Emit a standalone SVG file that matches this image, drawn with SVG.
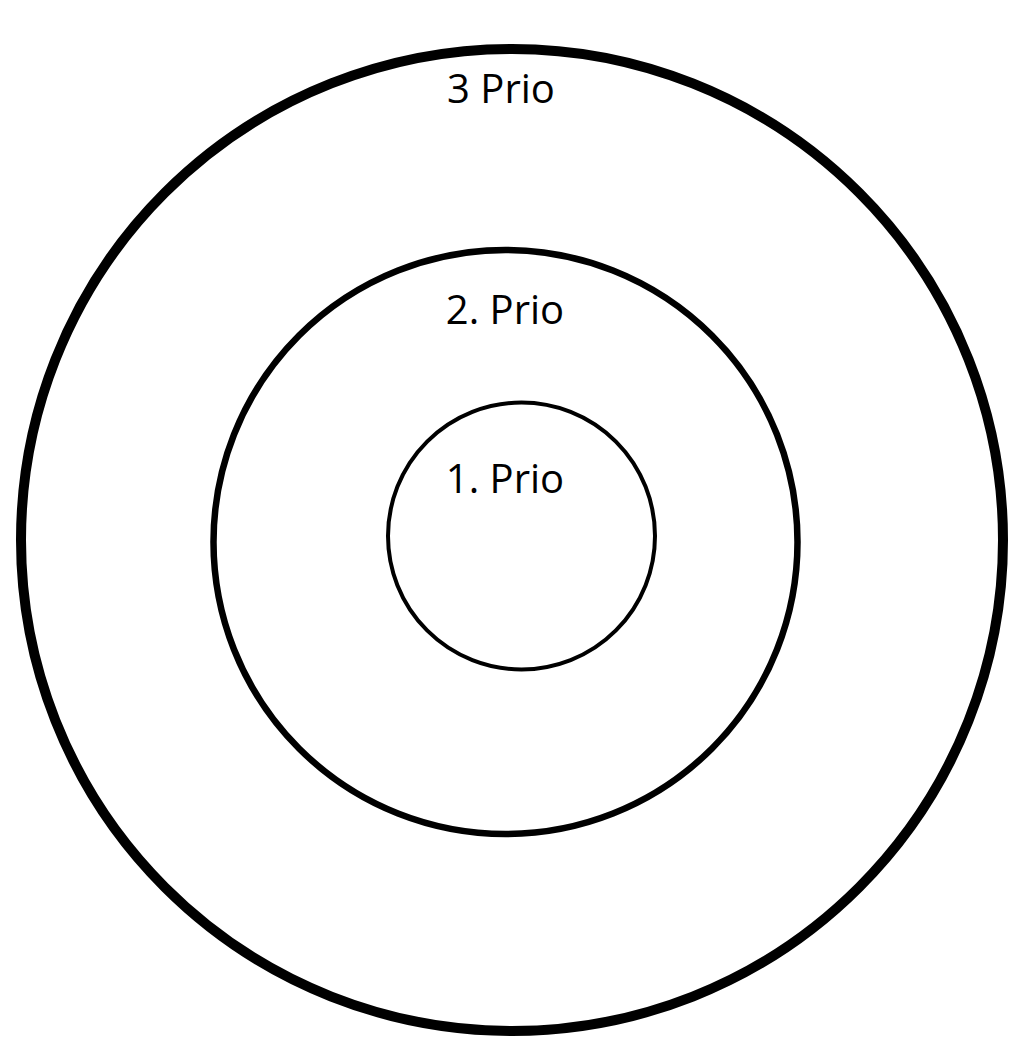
<svg xmlns="http://www.w3.org/2000/svg" width="1016" height="1038" viewBox="0 0 1016 1038">
<style>
.ring{fill:none;stroke:#000}
.lbl{font-family:"Open Sans","Liberation Sans",sans-serif;font-size:40px;fill:#000;text-anchor:middle}
</style>
<rect width="1016" height="1038" fill="#fff"/>
<g id="ring3">
<circle class="ring" cx="512" cy="540" r="491" stroke-width="10"/>
<text class="lbl" x="501" y="103">3 Prio</text>
</g>
<g id="ring2">
<circle class="ring" cx="505.5" cy="542" r="292" stroke-width="6.5"/>
<text class="lbl" x="505" y="324">2. Prio</text>
</g>
<g id="ring1">
<circle class="ring" cx="521.5" cy="536" r="133.5" stroke-width="4"/>
<text class="lbl" x="505" y="493">1. Prio</text>
</g>
<g id="connectors"/>
</svg>
